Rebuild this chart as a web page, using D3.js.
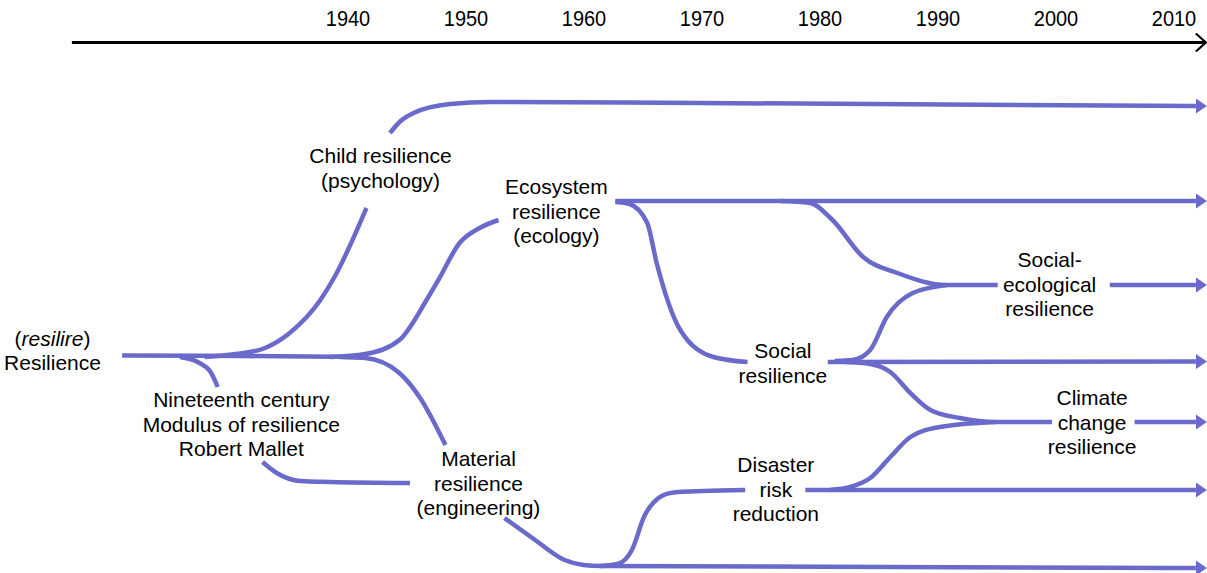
<!DOCTYPE html>
<html>
<head>
<meta charset="utf-8">
<script src="https://cdn.jsdelivr.net/npm/d3@7"></script>
<style>
  html, body { margin: 0; padding: 0; background: #fff; }
  svg { display: block; font-family: "Liberation Sans", Arial, sans-serif; }
</style>
</head>
<body>
<div id="chart"></div>
<script>
// timeline ticks and the span of the arrowed axis line (years)
const tickYears = [1940, 1950, 1960, 1970, 1980, 1990, 2000, 2010];
const axisSpan = [1916.6, 2012.7];

// node labels: text lines (*...* = italic), centre year, level of first line
const labelLines = [
    ["(*resilire*)", "Resilience"],
    ["Child resilience", "(psychology)"],
    ["Ecosystem", "resilience", "(ecology)"],
    ["Nineteenth century", "Modulus of resilience", "Robert Mallet"],
    ["Material", "resilience", "(engineering)"],
    ["Social", "resilience"],
    ["Disaster", "risk", "reduction"],
    ["Social-", "ecological", "resilience"],
    ["Climate", "change", "resilience"]
];
const labelYears = [1915.0, 1942.8, 1957.7, 1931.0, 1951.1, 1976.9, 1976.3, 1999.5, 2003.1];
const labelLevels = [24.55, 6.3, 9.4, 30.7, 36.6, 25.8, 37.2, 16.7, 30.5];

// flow lines as [year, level] points
const flows = [
    { pts: [[1920.9, 25.55], [1930.9, 25.6], [1941.1, 25.7]] },
    { pts: [[1927.9, 25.7], [1930.5, 25.4], [1932.8, 24.9], [1935.1, 23.3], [1937.7, 20.0], [1938.9, 17.7], [1941.6, 10.8]] },
    { pts: [[1943.6, 3.3], [1944.5, 2.1], [1945.6, 1.3], [1948.7, 0.4], [1952.1, 0.2], [1969.9, 0.3], [2011.9, 0.6]], arrow: true },
    { pts: [[1925.8, 25.7], [1927.3, 26.2], [1928.4, 27.2], [1929.0, 28.7]] },
    { pts: [[1932.8, 36.2], [1934.0, 37.3], [1936.0, 38.1], [1938.5, 38.2], [1945.3, 38.3]] },
    { pts: [[1938.5, 25.7], [1941.5, 25.4], [1944.4, 24.0], [1946.7, 20.0], [1947.7, 18.0], [1949.5, 14.3], [1951.2, 12.8], [1952.8, 12.0]] },
    { pts: [[1939.4, 25.7], [1941.5, 25.8], [1944.4, 27.3], [1946.1, 29.7], [1948.3, 34.5]] },
    { pts: [[1953.3, 41.8], [1955.9, 44.0], [1958.4, 46.0], [1960.0, 46.5], [1961.5, 46.6], [2011.9, 46.8]], arrow: true },
    { pts: [[1962.7, 10.1], [2011.9, 10.1]], arrow: true },
    { pts: [[1962.7, 10.2], [1963.9, 10.4], [1965.4, 12.3], [1966.2, 16.3], [1968.2, 23.0], [1971.0, 25.7], [1973.9, 26.2]] },
    { pts: [[1976.7, 10.1], [1979.2, 10.3], [1981.1, 12.0], [1983.7, 15.7], [1986.6, 17.3], [1990.8, 18.5], [1995.1, 18.5]] },
    { pts: [[1981.3, 26.1], [1982.8, 26.0], [1984.3, 25.0], [1985.7, 21.7], [1987.9, 19.3], [1990.8, 18.5]] },
    { pts: [[2004.6, 18.5], [2011.9, 18.5]], arrow: true },
    { pts: [[1980.7, 26.2], [2011.9, 26.15]], arrow: true },
    { pts: [[1982.2, 26.2], [1984.3, 26.4], [1986.0, 27.2], [1987.7, 29.3], [1989.4, 31.0], [1991.9, 31.8], [1994.9, 32.2], [1999.7, 32.2]] },
    { pts: [[1961.4, 46.6], [1962.9, 46.4], [1964.1, 45.0], [1965.2, 41.5], [1965.9, 40.3], [1966.8, 39.5], [1968.0, 39.2], [1970.1, 39.1], [1973.7, 39.0]] },
    { pts: [[1978.8, 39.0], [2011.9, 39.0]], arrow: true },
    { pts: [[1980.9, 39.0], [1982.6, 38.7], [1984.3, 37.8], [1986.0, 35.7], [1987.7, 33.7], [1990.2, 32.7], [1994.9, 32.2]] },
    { pts: [[2006.7, 32.2], [2011.9, 32.2]], arrow: true }
];

const width = 1207, height = 573;
const flowColor = "#6a6acb";
const lineGap = 24.5;

const x = d3.scaleLinear().domain([1940, 2010]).range([347.5, 1173.5]);
const y = d3.scaleLinear().domain([0, 47]).range([100, 570]);

const svg = d3.select("#chart").append("svg")
    .attr("width", width)
    .attr("height", height);

const defs = svg.append("defs");
defs.append("marker")
    .attr("id", "flowHead")
    .attr("markerUnits", "userSpaceOnUse")
    .attr("viewBox", "0 -8 12 16")
    .attr("refX", 0).attr("refY", 0)
    .attr("markerWidth", 12).attr("markerHeight", 16)
    .attr("orient", "auto")
    .append("path")
    .attr("d", "M0,-7.5L11,0L0,7.5Z")
    .attr("fill", flowColor);

defs.append("marker")
    .attr("id", "axisHead")
    .attr("markerUnits", "userSpaceOnUse")
    .attr("viewBox", "-12 -11 14 22")
    .attr("refX", 0).attr("refY", 0)
    .attr("markerWidth", 14).attr("markerHeight", 22)
    .attr("orient", "auto")
    .append("path")
    .attr("d", "M-10,-9L0,0L-10,9")
    .attr("fill", "none")
    .attr("stroke", "#000")
    .attr("stroke-width", 2.2);

// timeline axis
const axisScale = x.copy().domain(axisSpan).range(axisSpan.map(x));
const axisG = svg.append("g")
    .attr("transform", "translate(0,42)")
    .call(d3.axisTop(axisScale)
        .tickValues(tickYears)
        .tickFormat(d3.format("d"))
        .tickSizeInner(0)
        .tickSizeOuter(0)
        .tickPadding(16));

axisG.attr("font-family", null).attr("font-size", null);
axisG.select(".domain")
    .attr("stroke", "#000")
    .attr("stroke-width", 3)
    .attr("marker-end", "url(#axisHead)");
axisG.selectAll(".tick text")
    .attr("fill", "#000")
    .attr("transform", "scale(0.93,1)")
    .style("font-size", "21.5px");

// flows
const line = d3.line()
    .x(d => x(d[0]))
    .y(d => y(d[1]))
    .curve(d3.curveMonotoneX);

svg.append("g").selectAll("path")
    .data(flows)
    .join("path")
    .attr("d", d => line(d.pts))
    .attr("fill", "none")
    .attr("stroke", flowColor)
    .attr("stroke-width", 4.5)
    .attr("marker-end", d => d.arrow ? "url(#flowHead)" : null);

// labels
const labels = svg.append("g")
    .selectAll("g")
    .data(labelLines.map((lines, i) => ({ lines, year: labelYears[i], level: labelLevels[i] })))
    .join("g")
    .attr("transform", d => `translate(${x(d.year)},${y(d.level)})`);

labels.each(function (d) {
    const g = d3.select(this);
    d.lines.forEach((txt, i) => {
        const t = g.append("text")
            .attr("y", i * lineGap)
            .attr("text-anchor", "middle")
            .style("font-size", "21px")
            .attr("fill", "#000");
        txt.split("*").forEach((part, j) => {
            if (!part) return;
            t.append("tspan")
                .style("font-style", j % 2 ? "italic" : null)
                .text(part);
        });
    });
});
</script>
</body>
</html>
